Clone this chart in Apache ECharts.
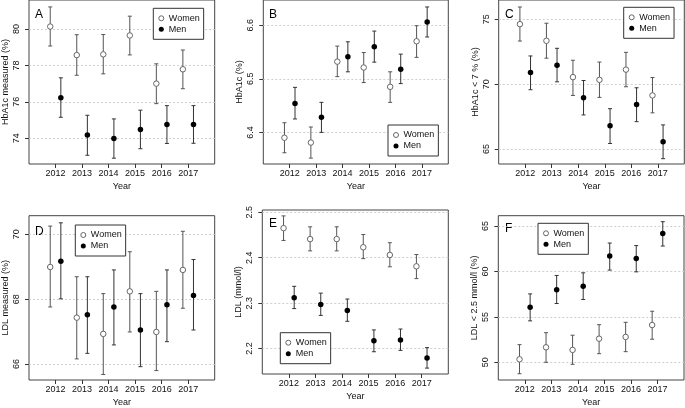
<!DOCTYPE html>
<html><head><meta charset="utf-8">
<script src="https://cdn.jsdelivr.net/npm/echarts@6/dist/echarts.min.js"></script>
<style>html,body{margin:0;padding:0;background:#fff}#c{width:685px;height:408px}</style>
</head><body><div id="c"></div>
<script>
const years = [2012, 2013, 2014, 2015, 2016, 2017];
const seriesNames = ['Women', 'Men'];

// Panel A: HbA1c measured (%)
const aWomen = [80.14, 78.57, 78.61, 79.65, 77.00, 77.79];
const aWomenLo = [79.07, 77.46, 77.54, 78.58, 75.90, 76.72];
const aWomenHi = [81.22, 79.69, 79.70, 80.71, 78.09, 78.85];
const aMen = [76.23, 74.17, 73.98, 74.48, 74.75, 74.75];
const aMenLo = [75.15, 73.06, 72.90, 73.42, 73.71, 73.72];
const aMenHi = [77.32, 75.26, 75.06, 75.54, 75.79, 75.79];
const aTicks = [74, 76, 78, 80];

// Panel B: HbA1c (%)
const bWomen = [6.390, 6.381, 6.532, 6.521, 6.485, 6.570];
const bWomenLo = [6.362, 6.352, 6.504, 6.493, 6.456, 6.540];
const bWomenHi = [6.418, 6.410, 6.561, 6.549, 6.513, 6.599];
const bMen = [6.454, 6.428, 6.541, 6.560, 6.518, 6.606];
const bMenLo = [6.425, 6.400, 6.513, 6.531, 6.491, 6.578];
const bMenHi = [6.484, 6.456, 6.569, 6.589, 6.546, 6.634];
const bTicks = [6.4, 6.5, 6.6];

// Panel C: HbA1c < 7 % (%)
const cWomen = [74.62, 73.34, 70.54, 70.33, 71.12, 69.13];
const cWomenLo = [73.32, 72.00, 69.13, 68.98, 69.80, 67.79];
const cWomenHi = [75.94, 74.69, 71.84, 71.70, 72.45, 70.51];
const cMen = [70.90, 71.45, 68.95, 66.80, 68.44, 65.56];
const cMenLo = [69.57, 70.18, 67.63, 65.43, 67.11, 64.26];
const cMenHi = [72.17, 72.76, 70.28, 68.11, 69.72, 66.86];
const cTicks = [65, 70, 75];

// Panel D: LDL measured (%)
const dWomen = [68.99, 67.43, 66.93, 68.24, 66.99, 68.90];
const dWomenLo = [67.76, 66.16, 65.68, 66.99, 65.80, 67.72];
const dWomenHi = [70.25, 68.69, 68.17, 69.46, 68.24, 70.09];
const dMen = [69.17, 67.52, 67.76, 67.05, 67.83, 68.11];
const dMenLo = [68.01, 66.33, 66.59, 65.92, 66.69, 67.05];
const dMenHi = [70.35, 68.69, 68.90, 68.17, 68.90, 69.22];
const dTicks = [66, 68, 70];

// Panel E: LDL (mmol/l)
const eWomen = [2.465, 2.441, 2.441, 2.423, 2.406, 2.381];
const eWomenLo = [2.438, 2.415, 2.415, 2.398, 2.380, 2.354];
const eWomenHi = [2.492, 2.468, 2.468, 2.451, 2.433, 2.407];
const eMen = [2.312, 2.297, 2.284, 2.217, 2.219, 2.179];
const eMenLo = [2.288, 2.273, 2.260, 2.193, 2.196, 2.157];
const eMenHi = [2.337, 2.322, 2.309, 2.241, 2.243, 2.202];
const eTicks = [2.2, 2.3, 2.4, 2.5];

// Panel F: LDL < 2.5 mmol/l (%)
const fWomen = [50.33, 51.65, 51.36, 52.60, 52.79, 54.10];
const fWomenLo = [48.74, 50.00, 49.78, 50.95, 51.17, 52.54];
const fWomenHi = [51.94, 53.26, 52.98, 54.14, 54.40, 55.62];
const fMen = [56.06, 58.00, 58.38, 61.69, 61.43, 64.18];
const fMenLo = [54.56, 56.47, 56.91, 60.15, 59.96, 62.80];
const fMenHi = [57.53, 59.56, 59.85, 63.13, 62.85, 65.48];
const fTicks = [50, 55, 60, 65];

const panelLetters = ['A', 'B', 'C', 'D', 'E', 'F'];
const yTitles = ['HbA1c measured (%)', 'HbA1c (%)', 'HbA1c < 7 % (%)', 'LDL measured (%)', 'LDL (mmol/l)', 'LDL < 2.5 mmol/l (%)'];

const panels = [
  {w: aWomen, wl: aWomenLo, wh: aWomenHi, m: aMen, ml: aMenLo, mh: aMenHi, ticks: aTicks, min: 72.58, max: 81.6,
   grid: {left: 28.7, top: -1, width: 186, height: 165}, legend: {left: 153.3, top: 8.3}, letter: {left: 35, top: 9}},
  {w: bWomen, wl: bWomenLo, wh: bWomenHi, m: bMen, ml: bMenLo, mh: bMenHi, ticks: bTicks, min: 6.341, max: 6.647,
   grid: {left: 263.3, top: -1, width: 185, height: 165}, legend: {left: 388, top: 125}, letter: {left: 269, top: 9}},
  {w: cWomen, wl: cWomenLo, wh: cWomenHi, m: cMen, ml: cMenLo, mh: cMenHi, ticks: cTicks, min: 63.85, max: 76.48,
   grid: {left: 498.7, top: -1, width: 185.6, height: 165}, legend: {left: 623.7, top: 7.3}, letter: {left: 505, top: 9}},
  {w: dWomen, wl: dWomenLo, wh: dWomenHi, m: dMen, ml: dMenLo, mh: dMenHi, ticks: dTicks, min: 65.51, max: 70.57,
   grid: {left: 28.5, top: 215.7, width: 186.2, height: 165.3}, legend: {left: 75.3, top: 225}, letter: {left: 35, top: 225.5}},
  {w: eWomen, wl: eWomenLo, wh: eWomenHi, m: eMen, ml: eMenLo, mh: eMenHi, ticks: eTicks, min: 2.144, max: 2.505,
   grid: {left: 262.3, top: 210, width: 186, height: 164}, legend: {left: 280.3, top: 332.7}, letter: {left: 269, top: 218}},
  {w: fWomen, wl: fWomenLo, wh: fWomenHi, m: fMen, ml: fMenLo, mh: fMenHi, ticks: fTicks, min: 48.05, max: 66.14,
   grid: {left: 498.3, top: 215.7, width: 185.7, height: 164.3}, legend: {left: 538, top: 223.3}, letter: {left: 505, top: 223}}
];

const FONT = 'Liberation Sans, Arial, Helvetica, sans-serif';
const OFFSET = 0.2;
const womenColor = '#666';
const barColorW = '#555';
const barColorM = '#333';

function errRender(color) {
  return function (params, api) {
    const x = api.value(0);
    const p1 = api.coord([x, api.value(1)]);
    const p2 = api.coord([x, api.value(2)]);
    const w = 2;
    const st = {stroke: color, lineWidth: 1};
    return {type: 'group', children: [
      {type: 'line', shape: {x1: p1[0], y1: p1[1], x2: p2[0], y2: p2[1]}, style: st},
      {type: 'line', shape: {x1: p1[0] - w, y1: p1[1], x2: p1[0] + w, y2: p1[1]}, style: st},
      {type: 'line', shape: {x1: p2[0] - w, y1: p2[1], x2: p2[0] + w, y2: p2[1]}, style: st}
    ]};
  };
}

const option = {animation: false, grid: [], xAxis: [], yAxis: [], series: [], legend: [], graphic: []};

panels.forEach((p, i) => {
  option.grid.push(Object.assign({show: true, borderColor: '#444', borderWidth: 1, backgroundColor: 'transparent', containLabel: false}, p.grid));
  option.xAxis.push({
    type: 'value', gridIndex: i, min: 2011, max: 2018,
    axisLine: {show: false}, splitLine: {show: false},
    axisTick: {show: true, length: 4, customValues: years, lineStyle: {color: '#333'}},
    axisLabel: {customValues: years, margin: 5, fontSize: 9, color: '#111', fontFamily: FONT, formatter: v => String(v)},
    name: 'Year', nameLocation: 'middle', nameGap: 18,
    nameTextStyle: {fontSize: 9, color: '#111', fontFamily: FONT}
  });
  option.yAxis.push({
    type: 'value', gridIndex: i, min: p.min, max: p.max,
    axisLine: {show: false}, splitLine: {show: false},
    axisTick: {show: true, length: 4, customValues: p.ticks, lineStyle: {color: '#333'}},
    axisLabel: {customValues: p.ticks, rotate: 90, margin: 8, fontSize: 9, color: '#111', fontFamily: FONT, formatter: v => String(v)},
    name: yTitles[i], nameLocation: 'middle', nameGap: 19,
    nameTextStyle: {fontSize: 9, color: '#111', fontFamily: FONT}
  });
  const wx = years.map(y => y - OFFSET);
  const mx = years.map(y => y + OFFSET);
  option.series.push({
    type: 'custom', name: 'Women CI ' + i, xAxisIndex: i, yAxisIndex: i, z: 2,
    renderItem: errRender(barColorW), encode: {x: 0, y: [1, 2]},
    data: years.map((y, k) => [wx[k], p.wl[k], p.wh[k]]),
    markLine: {silent: true, z: 1, symbol: ['none', 'none'], label: {show: false},
      lineStyle: {type: [2, 2], color: '#cfcfcf', width: 1},
      data: p.ticks.map(v => ({yAxis: v}))}
  });
  option.series.push({
    type: 'custom', name: 'Men CI ' + i, xAxisIndex: i, yAxisIndex: i, z: 2,
    renderItem: errRender(barColorM), encode: {x: 0, y: [1, 2]},
    data: years.map((y, k) => [mx[k], p.ml[k], p.mh[k]])
  });
  option.series.push({
    type: 'scatter', name: 'Women', xAxisIndex: i, yAxisIndex: i, z: 3, symbol: 'circle', symbolSize: 5.5,
    itemStyle: {color: '#fff', borderColor: womenColor, borderWidth: 1, opacity: 1},
    data: years.map((y, k) => [wx[k], p.w[k]])
  });
  option.series.push({
    type: 'scatter', name: 'Men', xAxisIndex: i, yAxisIndex: i, z: 3, symbol: 'circle', symbolSize: 5.5,
    itemStyle: {color: '#000', opacity: 1},
    data: years.map((y, k) => [mx[k], p.m[k]])
  });
  option.legend.push({
    data: [
      {name: seriesNames[0], icon: 'circle', itemStyle: {color: '#fff', borderColor: womenColor, borderWidth: 1}},
      {name: seriesNames[1], icon: 'circle', itemStyle: {color: '#000', borderWidth: 0}}
    ],
    orient: 'vertical', left: p.legend.left, top: p.legend.top,
    itemWidth: 5, itemHeight: 5, itemGap: 1, padding: [5, 4, 5, 5],
    borderColor: '#333', borderWidth: 1, backgroundColor: '#fff', selectedMode: false,
    textStyle: {fontSize: 9, lineHeight: 10, color: '#111', fontFamily: FONT}
  });
  option.graphic.push({type: 'text', left: p.letter.left, top: p.letter.top,
    style: {text: panelLetters[i], fontSize: 12, fill: '#000', fontFamily: FONT}});
});

const chart = echarts.init(document.getElementById('c'), null, {renderer: 'canvas'});
chart.setOption(option);
</script>
</body></html>
